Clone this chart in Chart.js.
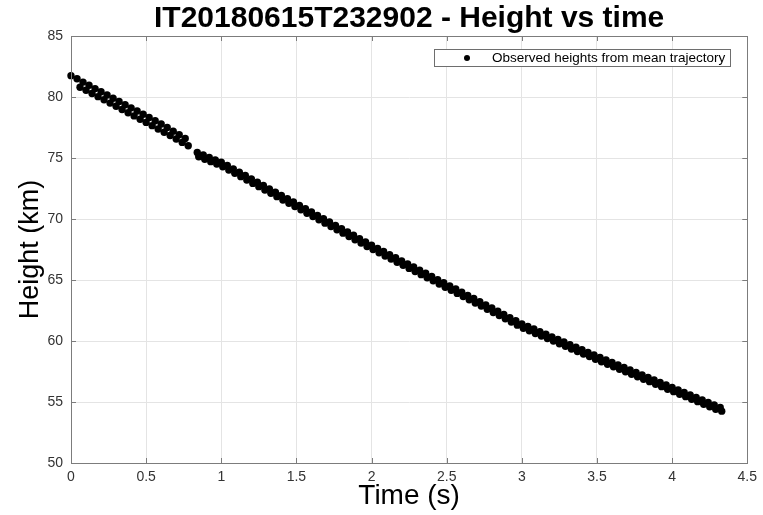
<!DOCTYPE html>
<html>
<head>
<meta charset="utf-8">
<title>Height vs time</title>
<script src="https://cdn.jsdelivr.net/npm/chart.js@4.4.1/dist/chart.umd.min.js"></script>
<style>
  html, body { margin: 0; padding: 0; background: #ffffff; }
  canvas { display: block; }
</style>
</head>
<body>
<canvas id="heightChart" width="763" height="515"></canvas>
<script>
const chartTitle = 'IT20180615T232902 - Height vs time';
const seriesLabel = 'Observed heights from mean trajectory';

const timeTicks = [0, 0.5, 1, 1.5, 2, 2.5, 3, 3.5, 4, 4.5];
const heightTicks = [50, 55, 60, 65, 70, 75, 80, 85];

// upper track (seconds / km)
const timesA = [
  0.00, 0.04, 0.08, 0.12, 0.16, 0.20, 0.24, 0.28, 0.32, 0.36, 0.40, 0.44, 0.48, 0.52, 0.56, 0.60, 0.64, 0.68, 0.72, 0.76,
  0.84, 0.88, 0.92, 0.96, 1.00, 1.04, 1.08, 1.12, 1.16, 1.20, 1.24, 1.28, 1.32, 1.36, 1.40, 1.44, 1.48, 1.52, 1.56, 1.60,
  1.64, 1.68, 1.72, 1.76, 1.80, 1.84, 1.88, 1.92, 1.96, 2.00, 2.04, 2.08, 2.12, 2.16, 2.20, 2.24, 2.28, 2.32, 2.36, 2.40,
  2.44, 2.48, 2.52, 2.56, 2.60, 2.64, 2.68, 2.72, 2.76, 2.80, 2.84, 2.88, 2.92, 2.96, 3.00, 3.04, 3.08, 3.12, 3.16, 3.20,
  3.24, 3.28, 3.32, 3.36, 3.40, 3.44, 3.48, 3.52, 3.56, 3.60, 3.64, 3.68, 3.72, 3.76, 3.80, 3.84, 3.88, 3.92, 3.96, 4.00,
  4.04, 4.08, 4.12, 4.16, 4.20, 4.24, 4.28, 4.32
];
const heightsA = [
  81.75, 81.49, 81.22, 80.96, 80.69, 80.43, 80.17, 79.90, 79.64, 79.37, 79.11, 78.85, 78.58, 78.32, 78.05, 77.79, 77.50, 77.20, 76.90, 76.60,
  75.45, 75.25, 75.05, 74.85, 74.65, 74.38, 74.11, 73.83, 73.56, 73.29, 73.02, 72.75, 72.47, 72.20, 71.93, 71.66, 71.39, 71.11, 70.84, 70.57,
  70.30, 70.03, 69.75, 69.48, 69.21, 68.94, 68.67, 68.39, 68.12, 67.85, 67.59, 67.34, 67.08, 66.83, 66.57, 66.31, 66.06, 65.80, 65.55, 65.29,
  65.03, 64.78, 64.52, 64.26, 64.00, 63.74, 63.48, 63.22, 62.96, 62.70, 62.44, 62.18, 61.92, 61.66, 61.40, 61.19, 60.98, 60.76, 60.55, 60.34,
  60.13, 59.92, 59.70, 59.49, 59.28, 59.07, 58.86, 58.65, 58.44, 58.24, 58.04, 57.83, 57.63, 57.42, 57.22, 57.02, 56.81, 56.61, 56.40, 56.20,
  55.99, 55.79, 55.58, 55.38, 55.17, 54.96, 54.76, 54.55
];

// lower track
const timesB = [
  0.06, 0.10, 0.14, 0.18, 0.22, 0.26, 0.30, 0.34, 0.38, 0.42, 0.46, 0.50, 0.54, 0.58, 0.62, 0.66, 0.70, 0.74, 0.78,
  0.85, 0.89, 0.93, 0.97, 1.01, 1.05, 1.09, 1.13, 1.17, 1.21, 1.25, 1.29, 1.33, 1.37, 1.41, 1.45, 1.49, 1.53, 1.57, 1.61,
  1.65, 1.69, 1.73, 1.77, 1.81, 1.85, 1.89, 1.93, 1.97, 2.01, 2.05, 2.09, 2.13, 2.17, 2.21, 2.25, 2.29, 2.33, 2.37, 2.41,
  2.45, 2.49, 2.53, 2.57, 2.61, 2.65, 2.69, 2.73, 2.77, 2.81, 2.85, 2.89, 2.93, 2.97, 3.01, 3.05, 3.09, 3.13, 3.17, 3.21,
  3.25, 3.29, 3.33, 3.37, 3.41, 3.45, 3.49, 3.53, 3.57, 3.61, 3.65, 3.69, 3.73, 3.77, 3.81, 3.85, 3.89, 3.93, 3.97, 4.01,
  4.05, 4.09, 4.13, 4.17, 4.21, 4.25, 4.29, 4.33
];
const heightsB = [
  80.80, 80.55, 80.29, 80.03, 79.77, 79.50, 79.24, 78.98, 78.71, 78.45, 78.18, 77.92, 77.65, 77.38, 77.11, 76.84, 76.56, 76.28, 76.00,
  75.10, 74.90, 74.70, 74.50, 74.28, 74.01, 73.74, 73.47, 73.19, 72.92, 72.65, 72.38, 72.11, 71.83, 71.56, 71.29, 71.02, 70.75, 70.47, 70.20,
  69.93, 69.66, 69.39, 69.11, 68.84, 68.57, 68.30, 68.03, 67.75, 67.49, 67.23, 66.97, 66.72, 66.46, 66.21, 65.95, 65.69, 65.44, 65.18, 64.93,
  64.67, 64.41, 64.16, 63.90, 63.64, 63.38, 63.12, 62.86, 62.60, 62.34, 62.08, 61.82, 61.56, 61.30, 61.05, 60.84, 60.62, 60.41, 60.20, 59.99,
  59.78, 59.56, 59.35, 59.14, 58.93, 58.72, 58.50, 58.30, 58.09, 57.89, 57.69, 57.48, 57.28, 57.07, 56.87, 56.67, 56.46, 56.26, 56.05, 55.85,
  55.64, 55.44, 55.23, 55.03, 54.82, 54.61, 54.41, 54.25
];

const FONT = "'Liberation Sans', Arial, Helvetica, sans-serif";
const AXIS_COLOR = '#7c7c7c';
const GRID_COLOR = '#e4e4e4';
const TEXT_COLOR = '#333333';

function toPoints(times, heights) {
  const count = Math.min(times.length, heights.length);
  const points = [];
  for (let i = 0; i < count; i++) {
    points.push({ x: times[i], y: heights[i] });
  }
  return points;
}

// MATLAB style: box round the axes and small ticks pointing inward
const axesBoxPlugin = {
  id: 'axesBox',
  afterDatasetsDraw(chart) {
    const { ctx, chartArea: area, scales } = chart;
    const tick = 5;
    ctx.save();
    ctx.strokeStyle = AXIS_COLOR;
    ctx.lineWidth = 1;
    ctx.beginPath();
    scales.x.ticks.forEach(t => {
      const px = Math.round(scales.x.getPixelForValue(t.value)) + 0.5;
      ctx.moveTo(px, area.bottom);
      ctx.lineTo(px, area.bottom - tick);
      ctx.moveTo(px, area.top);
      ctx.lineTo(px, area.top + tick);
    });
    scales.y.ticks.forEach(t => {
      const py = Math.round(scales.y.getPixelForValue(t.value)) + 0.5;
      ctx.moveTo(area.left, py);
      ctx.lineTo(area.left + tick, py);
      ctx.moveTo(area.right, py);
      ctx.lineTo(area.right - tick, py);
    });
    ctx.stroke();
    ctx.strokeRect(Math.round(area.left) + 0.5, Math.round(area.top) + 0.5,
      Math.round(area.right - area.left), Math.round(area.bottom - area.top));
    ctx.restore();
  }
};

// legend drawn as a boxed entry in the top right corner of the axes
const boxedLegendPlugin = {
  id: 'boxedLegend',
  afterDraw(chart) {
    const { ctx, chartArea: area } = chart;
    const dataset = chart.data.datasets[0];
    ctx.save();
    ctx.font = `13.5px ${FONT}`;
    const textWidth = ctx.measureText(dataset.label).width;
    const boxWidth = 58 + textWidth + 5;
    const boxHeight = 17;
    const right = Math.round(area.right - 17);
    const left = right - Math.round(boxWidth);
    const top = Math.round(area.top + 13);

    ctx.fillStyle = '#ffffff';
    ctx.fillRect(left, top, right - left, boxHeight);
    ctx.strokeStyle = '#6e6e6e';
    ctx.lineWidth = 1;
    ctx.strokeRect(left + 0.5, top + 0.5, right - left, boxHeight);

    ctx.fillStyle = '#000000';
    ctx.beginPath();
    ctx.arc(left + 33, top + boxHeight / 2 + 0.5, 3, 0, Math.PI * 2);
    ctx.fill();

    ctx.fillStyle = '#000000';
    ctx.textBaseline = 'middle';
    ctx.textAlign = 'left';
    ctx.fillText(dataset.label, left + 58, top + boxHeight / 2 + 1);
    ctx.restore();
  }
};

const canvas = document.getElementById('heightChart');

new Chart(canvas, {
  type: 'scatter',
  data: {
    datasets: [{
      label: seriesLabel,
      data: toPoints(timesA, heightsA).concat(toPoints(timesB, heightsB)),
      backgroundColor: '#000000',
      borderColor: '#000000',
      borderWidth: 0,
      pointRadius: 3.7,
      pointHoverRadius: 3.7,
      clip: false
    }]
  },
  options: {
    responsive: false,
    animation: false,
    events: [],
    layout: { padding: { top: 0, right: 10, bottom: 0, left: 0 } },
    plugins: {
      legend: { display: false },
      tooltip: { enabled: false },
      title: {
        display: true,
        text: chartTitle,
        fullSize: false,
        color: '#000000',
        padding: { top: 1, bottom: 0 },
        font: { family: FONT, size: 30, weight: 'bold', lineHeight: 35 / 30 }
      }
    },
    scales: {
      x: {
        type: 'linear',
        min: 0,
        max: 4.5,
        afterBuildTicks(scale) {
          scale.ticks = timeTicks.map(value => ({ value }));
        },
        afterFit(scale) {
          scale.height = 52;
        },
        grid: { color: GRID_COLOR, drawTicks: false },
        border: { display: true, color: AXIS_COLOR },
        ticks: {
          color: TEXT_COLOR,
          padding: 6,
          maxRotation: 0,
          autoSkip: false,
          font: { family: FONT, size: 14 },
          callback: value => String(value)
        },
        title: {
          display: true,
          text: 'Time (s)',
          color: '#000000',
          padding: { top: 0, bottom: 2 },
          font: { family: FONT, size: 28, lineHeight: 1.2 }
        }
      },
      y: {
        type: 'linear',
        min: 50,
        max: 85,
        afterBuildTicks(scale) {
          scale.ticks = heightTicks.map(value => ({ value }));
        },
        afterFit(scale) {
          scale.width = 71;
        },
        grid: { color: GRID_COLOR, drawTicks: false },
        border: { display: true, color: AXIS_COLOR },
        ticks: {
          color: TEXT_COLOR,
          padding: 8,
          autoSkip: false,
          font: { family: FONT, size: 14 },
          callback: value => String(value)
        },
        title: {
          display: true,
          text: 'Height (km)',
          color: '#000000',
          padding: { top: 14, bottom: 0 },
          font: { family: FONT, size: 27, lineHeight: 1.2 }
        }
      }
    }
  },
  plugins: [axesBoxPlugin, boxedLegendPlugin]
});
</script>
</body>
</html>
